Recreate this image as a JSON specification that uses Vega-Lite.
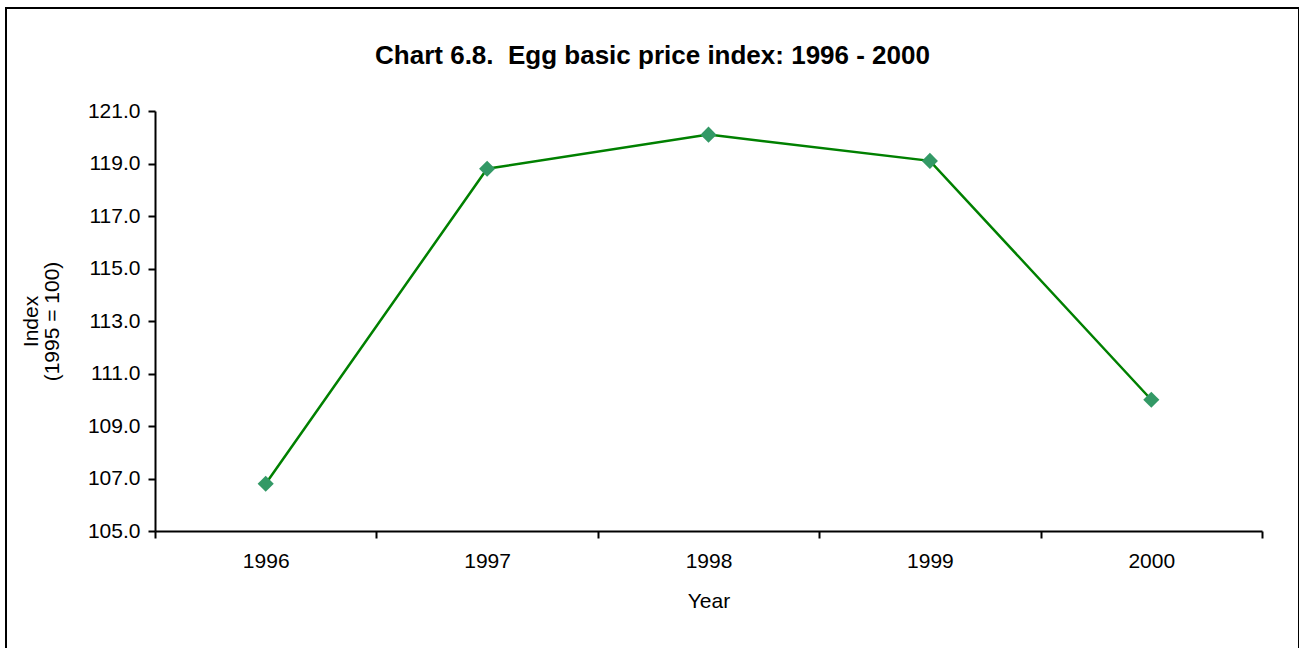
{
  "$schema": "https://vega.github.io/schema/vega-lite/v6.json",
  "autosize": "none",
  "padding": {"left": 6, "top": 8, "right": 0, "bottom": 0},
  "width": 1293,
  "height": 645,
  "background": "white",
  "config": {
    "view": {"stroke": "black", "strokeWidth": 2},
    "font": "Liberation Sans",
    "axis": {
      "domainColor": "black",
      "domainWidth": 2,
      "tickColor": "black",
      "tickWidth": 2,
      "tickSize": 7,
      "grid": false,
      "labelFont": "Liberation Sans",
      "labelFontSize": 21,
      "labelColor": "black",
      "titleFont": "Liberation Sans",
      "titleFontSize": 21,
      "titleFontWeight": "normal",
      "titleColor": "black"
    }
  },
  "title": {
    "text": "Chart 6.8.\u00a0 Egg basic price index: 1996 - 2000",
    "font": "Liberation Sans",
    "fontSize": 26,
    "fontWeight": "bold",
    "color": "black",
    "anchor": "middle",
    "frame": "group",
    "baseline": "alphabetic",
    "offset": -82
  },
  "data": {
    "values": [
      {"year": 1996, "index": 106.8},
      {"year": 1997, "index": 118.8},
      {"year": 1998, "index": 120.1},
      {"year": 1999, "index": 119.1},
      {"year": 2000, "index": 110.0}
    ]
  },
  "layer": [
    {
      "mark": {"type": "line", "color": "#008000", "strokeWidth": 2.5},
      "encoding": {
        "x": {
          "field": "year",
          "type": "quantitative",
          "scale": {"domain": [1995.5, 2000.5], "range": [149, 1256], "nice": false, "zero": false},
          "axis": {
            "orient": "bottom",
            "offset": -122,
            "values": [1995.5, 1996.5, 1997.5, 1998.5, 1999.5, 2000.5],
            "labels": false,
            "title": null
          }
        },
        "y": {
          "field": "index",
          "type": "quantitative",
          "scale": {"domain": [105, 121], "range": [523, 103], "nice": false, "zero": false},
          "axis": {
            "orient": "left",
            "offset": -149,
            "values": [105, 107, 109, 111, 113, 115, 117, 119, 121],
            "format": ".1f",
            "labelPadding": 8,
            "title": ["Index", "(1995 = 100)"],
            "titlePadding": 25,
            "titleLineHeight": 21
          }
        }
      }
    },
    {
      "mark": {"type": "point", "shape": "diamond", "filled": true, "color": "#339966", "size": 260, "opacity": 1},
      "encoding": {
        "x": {
          "field": "year",
          "type": "quantitative",
          "axis": {
            "orient": "bottom",
            "offset": -122,
            "values": [1996, 1997, 1998, 1999, 2000],
            "format": "d",
            "ticks": false,
            "domain": false,
            "labelPadding": 19,
            "title": "Year",
            "titlePadding": 19
          }
        },
        "y": {
          "field": "index",
          "type": "quantitative",
          "axis": {
            "orient": "left",
            "offset": -149,
            "values": [105, 107, 109, 111, 113, 115, 117, 119, 121],
            "format": ".1f",
            "labelPadding": 8,
            "title": ["Index", "(1995 = 100)"],
            "titlePadding": 25,
            "titleLineHeight": 21
          }
        }
      }
    }
  ],
  "resolve": {"axis": {"x": "independent"}}
}
